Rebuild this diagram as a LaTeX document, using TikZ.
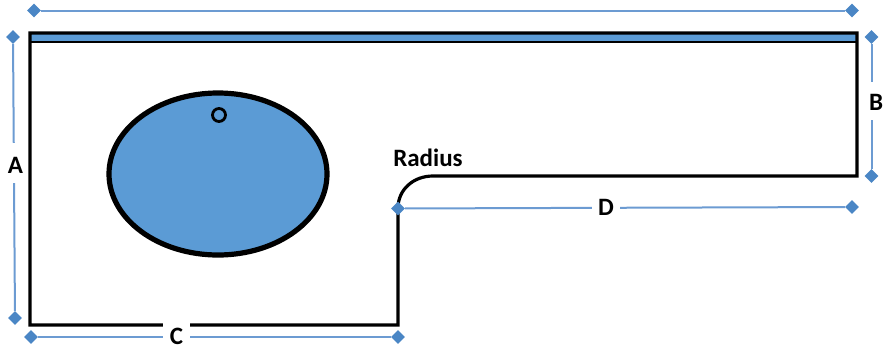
\documentclass[tikz,border=0pt]{standalone}
\usepackage{fontspec}
\setmainfont{Carlito}
\usetikzlibrary{shapes.geometric}
\definecolor{dimblue}{HTML}{6C9BD2}
\definecolor{tipblue}{HTML}{4A86C5}
\definecolor{fillblue}{HTML}{5B9BD5}
\tikzset{
  x=1pt,y=-1pt,
  outline/.style={draw=black,line width=3.2pt,line join=miter},
  dimline/.style={draw=dimblue,line width=2pt},
  tip/.style={diamond,fill=tipblue,inner sep=0pt,minimum width=14pt,minimum height=14pt},
  lab/.style={font=\fontsize{25}{27}\selectfont\bfseries,text=black,inner sep=0pt},
  gaplab/.style={lab,fill=white,inner xsep=6pt,inner ysep=0pt},
  tallgap/.style={gaplab,anchor=base,inner xsep=3pt,text depth=10pt}
}
\begin{document}
\begin{tikzpicture}
\useasboundingbox (0,0) rectangle (884,346);
% outline
\coordinate (tl) at (30,33);
\coordinate (tr) at (857,33);
\coordinate (sr) at (857,176);
\coordinate (bl) at (30,325);
\coordinate (bi) at (398,325);
\coordinate (ri) at (398,208);
\coordinate (re) at (433,176);
\coordinate (barl) at (30,42);
\coordinate (barr) at (857,42);
\fill[fillblue] (tl) rectangle (barr);
\draw[outline,line width=2pt] (barl) -- (barr);
\draw[outline] (bi) -- (bl) -- (tl) -- (tr) -- (sr) -- (re) .. controls (413,176) and (398,190) .. (ri) -- cycle;
% hole
\node[ellipse,draw=black,fill=fillblue,line width=5.2pt,minimum width=218pt,minimum height=162pt,inner sep=0pt] (hole) at (218,174) {};
\node[circle,draw=black,line width=2.8pt,minimum size=13pt,inner sep=0pt] (pin) at (219,115) {};
% dimension tips
\node[tip] (t1) at (34,10.5) {};
\node[tip] (t2) at (852,10.5) {};
\node[tip] (a1) at (13,37) {};
\node[tip] (a2) at (15,318) {};
\node[tip] (b1) at (871.5,37) {};
\node[tip] (b2) at (871.5,176) {};
\node[tip] (c1) at (31,337) {};
\node[tip] (c2) at (398,337) {};
\node[tip] (d1) at (398,208.5) {};
\node[tip] (d2) at (852,207) {};
% dimension lines
\draw[dimline] (t1) -- (t2);
\draw[dimline] (a1) -- (a2);
\draw[dimline] (b1) -- (b2);
\draw[dimline] (c1) -- (c2);
\draw[dimline] (d1) -- (d2);
% labels
\node[tallgap,text height=30pt] (A) at (15.5,173) {A};
\node[tallgap,text height=28pt] (B) at (876,110) {B};
\node[gaplab,anchor=base,text height=23pt,text depth=0pt,inner xsep=7pt] (C) at (176.5,344.5) {C};
\node[gaplab] (D) at (606,207) {D};
\node[lab] (R) at (428,158) {Radius};
\end{tikzpicture}
\end{document}
